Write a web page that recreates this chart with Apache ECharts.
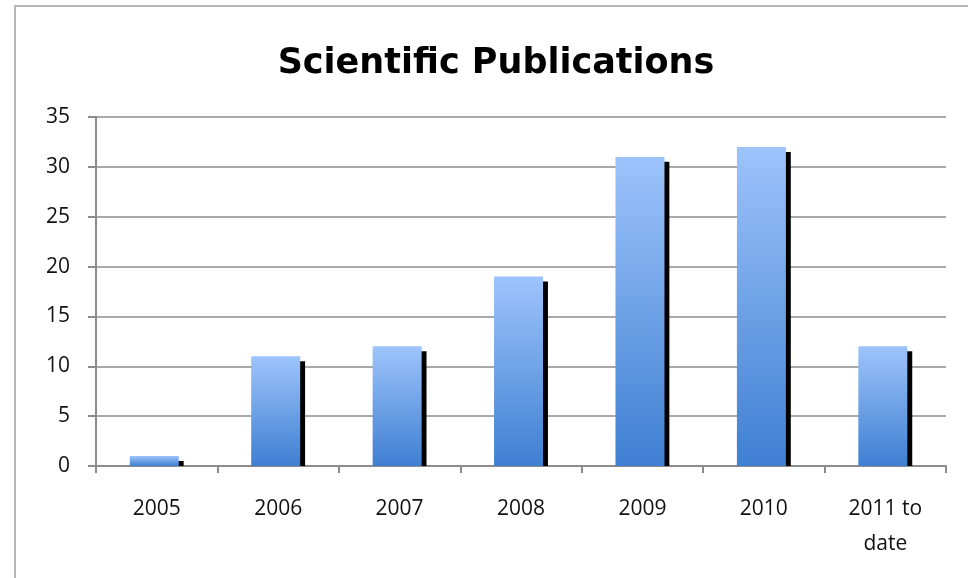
<!DOCTYPE html>
<html>
<head>
<meta charset="utf-8">
<script src="https://cdn.jsdelivr.net/npm/echarts@6/dist/echarts.min.js"></script>
<style>
  html, body { margin: 0; padding: 0; background: #fff; }
  #chart { width: 968px; height: 578px; }
</style>
</head>
<body>
<div id="chart"></div>
<script>
// Publications per year
const categories = ['2005', '2006', '2007', '2008', '2009', '2010', '2011 to\ndate'];
const publications = [1, 11, 12, 19, 31, 32, 12];
const yTicks = { min: 0, max: 35, interval: 5 };

// The drop shadow behind each column sits half a unit lower than the column itself
const shadowDrop = 0.5;
const shadowValues = publications.map(v => Math.max(v - shadowDrop, 0));

const chart = echarts.init(document.getElementById('chart'), null, { renderer: 'canvas' });

const font = '"Open Sans", "Noto Sans", sans-serif';

chart.setOption({
  animation: false,
  backgroundColor: '#ffffff',
  title: {
    text: 'Scientific Publications',
    left: 491,
    textAlign: 'center',
    top: 41,
    textStyle: { fontFamily: '"DejaVu Sans", sans-serif', fontWeight: 'bold', fontSize: 35, color: '#000' }
  },
  graphic: [{
    type: 'polyline',
    shape: { points: [[15, 600], [15, 6], [990, 6]] },
    style: { stroke: '#b8b8b8', lineWidth: 2, fill: null },
    silent: true
  }],
  grid: { left: 96, right: 22, top: 117, bottom: 112 },
  xAxis: {
    type: 'category',
    data: categories,
    axisLine: { lineStyle: { color: '#8c8c8c', width: 2 } },
    axisTick: { show: true, length: 7, alignWithLabel: false, lineStyle: { color: '#8c8c8c', width: 2 } },
    axisLabel: {
      margin: 26,
      fontFamily: font,
      fontSize: 21,
      color: '#111',
      lineHeight: 35
    }
  },
  yAxis: {
    type: 'value',
    min: yTicks.min,
    max: yTicks.max,
    interval: yTicks.interval,
    axisLine: { show: true, lineStyle: { color: '#8c8c8c', width: 2 } },
    axisTick: { show: true, length: 8, lineStyle: { color: '#8c8c8c', width: 2 } },
    splitLine: { lineStyle: { color: '#8c8c8c', width: 1.5 } },
    axisLabel: { margin: 26, fontFamily: font, fontSize: 21, color: '#111' }
  },
  series: [
    {
      name: 'Publications',
      type: 'bar',
      data: publications,
      barWidth: 49,
      barGap: '-90%',
      z: 3,
      itemStyle: {
        color: new echarts.graphic.LinearGradient(0, 0, 0, 1, [
          { offset: 0, color: '#9dc4fb' },
          { offset: 1, color: '#3f7fd2' }
        ])
      }
    },
    {
      name: 'Shadow',
      type: 'bar',
      data: shadowValues,
      barWidth: 49,
      z: 2,
      silent: true,
      itemStyle: { color: '#000' }
    }
  ]
});
</script>
</body>
</html>
